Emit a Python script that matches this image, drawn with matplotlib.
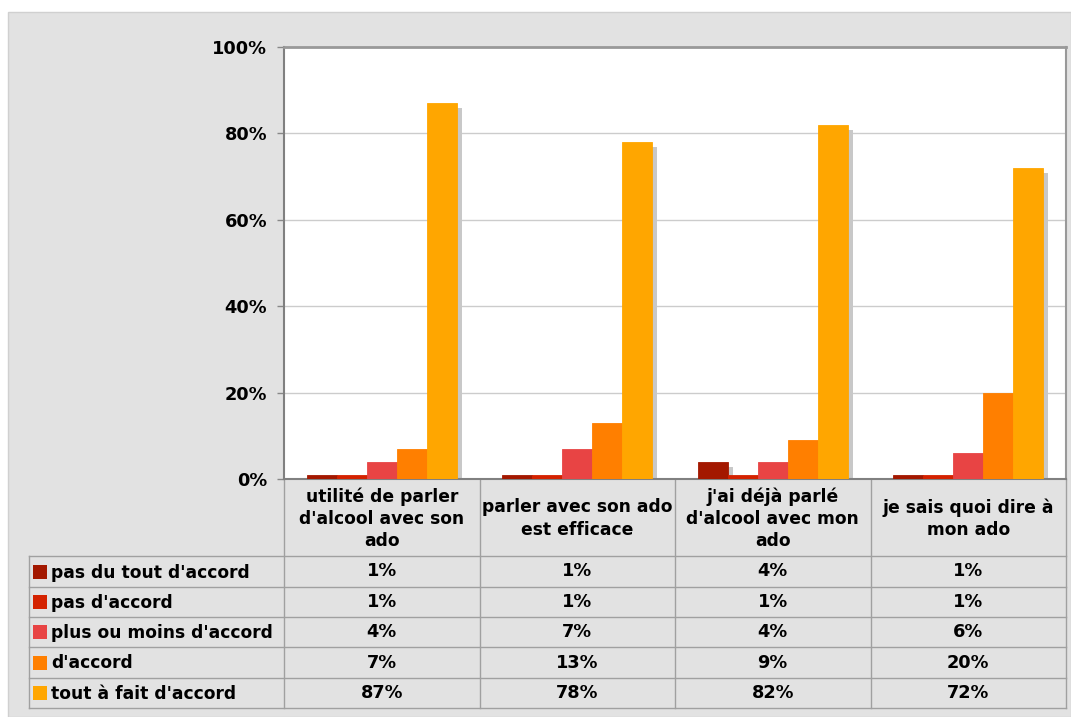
import matplotlib
matplotlib.use("Agg")
import matplotlib.pyplot as plt
import matplotlib.transforms as mtransforms
from matplotlib.patches import Rectangle
import numpy as np

categories = ["utilité de parler\nd'alcool avec son\nado",
              "parler avec son ado\nest efficace",
              "j'ai déjà parlé\nd'alcool avec mon\nado",
              "je sais quoi dire à\nmon ado"]
series_names = ["pas du tout d'accord", "pas d'accord", "plus ou moins d'accord",
                "d'accord", "tout à fait d'accord"]
pas_du_tout = [1, 1, 4, 1]
pas_accord = [1, 1, 1, 1]
plus_ou_moins = [4, 7, 4, 6]
accord = [7, 13, 9, 20]
tout_a_fait = [87, 78, 82, 72]
series_values = [pas_du_tout, pas_accord, plus_ou_moins, accord, tout_a_fait]
colors = ["#A31800", "#D42200", "#E84444", "#FF7F00", "#FFA600"]
y_ticks = [0, 20, 40, 60, 80, 100]
y_tick_labels = ["0%", "20%", "40%", "60%", "80%", "100%"]

W, H = 1071, 717
fig = plt.figure(figsize=(W / 100, H / 100), dpi=100)
fig.patch.set_facecolor("white")
plt.rcParams['font.family'] = ['DejaVu Sans']

BG = "#E2E2E2"
LINE = "#A0A0A0"
FS_NUM = 12.8
FS_TXT = 12.3

# background / table overlay in pixel coords
bg = fig.add_axes([0, 0, 1, 1], zorder=0)
bg.set_xlim(0, W)
bg.set_ylim(H, 0)
bg.axis("off")
bg.add_patch(Rectangle((8, 12), W - 8, H - 12, facecolor=BG, edgecolor="#D0D0D0", lw=1))

# main axes
L, T, R, B = 284, 47, 1066, 479
ax = fig.add_axes([L / W, (H - B) / H, (R - L) / W, (B - T) / H], zorder=1)
ax.set_facecolor("white")
ax.set_xlim(-0.5, len(categories) - 0.5)
ax.set_ylim(0, 100)

n = len(series_names)
bw = 30 / 195.5
x = np.arange(len(categories))
shadow_tr = mtransforms.offset_copy(ax.transData, fig=fig, x=5, y=-5, units='dots')
for k, (vals, c) in enumerate(zip(series_values, colors)):
    xpos = x + (k - (n - 1) / 2) * bw
    ax.bar(xpos, vals, width=bw, color="#C8C8C8", transform=shadow_tr, zorder=2, lw=0)
for k, (vals, c) in enumerate(zip(series_values, colors)):
    xpos = x + (k - (n - 1) / 2) * bw
    ax.bar(xpos, vals, width=bw, color=c, zorder=3, lw=0.6, edgecolor=c)

ax.set_yticks(y_ticks)
ax.set_yticklabels(y_tick_labels, fontsize=FS_NUM, fontweight="bold")
ax.tick_params(axis="y", length=5, width=1, color="#888888", pad=7)
ax.set_xticks([])
ax.yaxis.grid(True, color="#CCCCCC", lw=1)
ax.set_axisbelow(True)
for s in ["left", "bottom"]:
    ax.spines[s].set_color("#808080")
    ax.spines[s].set_linewidth(1.5)
ax.spines["top"].set_color("#999999")
ax.spines["top"].set_linewidth(2)
ax.spines["right"].set_color("#999999")
ax.spines["right"].set_linewidth(1.5)

# table
fig.canvas.draw()
def px(xd):
    return ax.transData.transform((xd, 0))[0]

bounds = [px(i - 0.5) for i in range(len(categories) + 1)]
row_lines = [556, 587, 617, 647, 678, 708]
legend_left = 29
for yl in row_lines:
    bg.plot([legend_left, bounds[-1]], [yl, yl], color=LINE, lw=1)
for xb in bounds:
    bg.plot([xb, xb], [B, row_lines[-1]], color=LINE, lw=1)
bg.plot([legend_left, legend_left], [row_lines[0], row_lines[-1]], color=LINE, lw=1)

# headers
for i, cat in enumerate(categories):
    cx = (bounds[i] + bounds[i + 1]) / 2
    bg.text(cx, (B + row_lines[0]) / 2 + 1, cat, ha="center", va="center",
            fontsize=FS_TXT, fontweight="bold", linespacing=1.3)

# rows
for r, (name, vals, c) in enumerate(zip(series_names, series_values, colors)):
    yc = (row_lines[r] + row_lines[r + 1]) / 2
    bg.add_patch(Rectangle((33, yc - 7), 14, 14, facecolor=c, edgecolor="none"))
    bg.text(51, yc + 1, name, ha="left", va="center", fontsize=FS_TXT, fontweight="bold")
    for i, v in enumerate(vals):
        cx = (bounds[i] + bounds[i + 1]) / 2
        bg.text(cx, yc, f"{v}%", ha="center", va="center", fontsize=FS_NUM, fontweight="bold")

fig.savefig("out.png", dpi=100, facecolor=fig.get_facecolor())
